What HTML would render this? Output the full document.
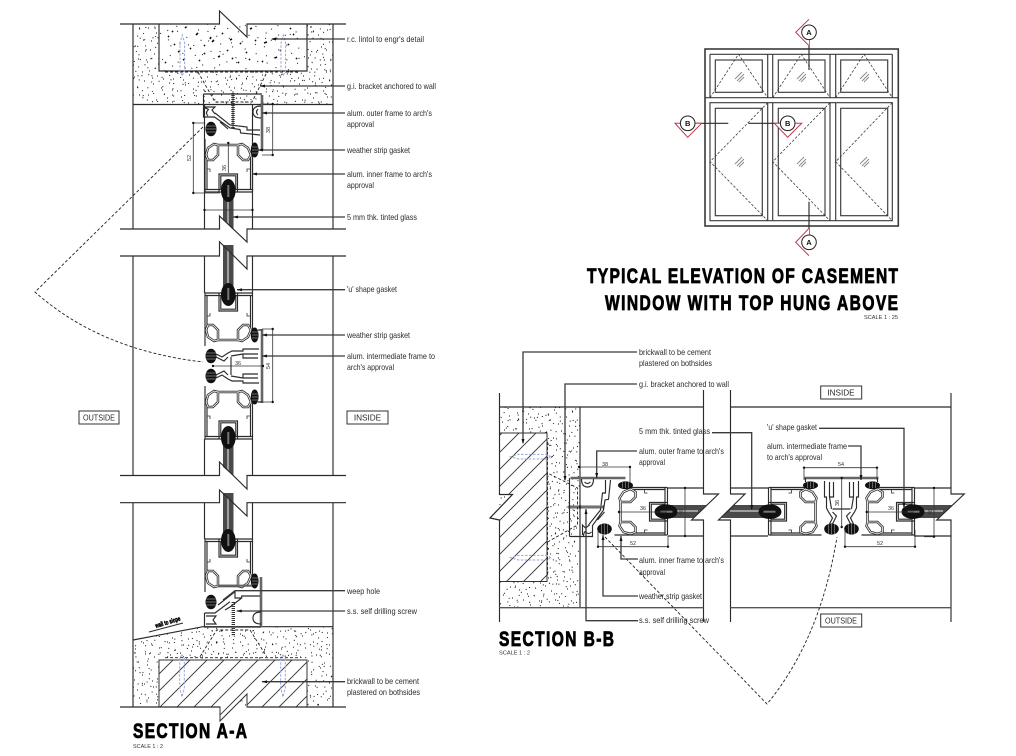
<!DOCTYPE html>
<html><head><meta charset="utf-8"><style>
html,body{margin:0;padding:0;background:#fff;width:1016px;height:756px;overflow:hidden}
svg{display:block}
.t{font:8.2px "Liberation Sans",sans-serif;fill:#2a2a2a}
.d{font:5.5px "Liberation Sans",sans-serif;fill:#333}
.h{font:bold 21px "Liberation Sans",sans-serif;fill:#000;stroke:#000;stroke-width:.85}
.s{font:5.6px "Liberation Sans",sans-serif;fill:#333}
.l{fill:none;stroke:#2b2b2b;stroke-width:1.15}
.ld{fill:none;stroke:#3a3a3a;stroke-width:1.3}
.dm{fill:none;stroke:#333;stroke-width:.8}
.th{fill:none;stroke:#666;stroke-width:2.6}
.da{fill:none;stroke:#222;stroke-width:.9;stroke-dasharray:3 2}
.bl{fill:none;stroke:#9aa6dc;stroke-width:1;stroke-dasharray:2.5 1.5}
.k{fill:#111;stroke:#111}
.win{fill:none;stroke:#3a3a3a;stroke-width:1.15}
.wd{fill:none;stroke:#333;stroke-width:.75;stroke-dasharray:2.6 1.7}
.red{fill:#fff;stroke:#c03648;stroke-width:1}
</style></head><body>
<svg width="1016" height="756" viewBox="0 0 1016 756" xmlns="http://www.w3.org/2000/svg">
<defs>
<path id="dots" stroke="#111" stroke-width="1" fill="none" d="M3 4h1M11 9h1M19 2h1M27 12h1M34 5h1M43 8h1M52 3h1M61 10h1M69 5h1M7 17h1M15 21h1M23 16h1M31 24h1M39 18h1M47 22h1M55 15h1M64 20h1M71 14h1M2 28h1M10 33h1M18 27h1M26 35h1M35 30h1M42 36h1M50 29h1M58 34h1M66 28h1M5 41h1M13 45h1M21 39h1M29 47h1M37 42h1M45 48h1M53 41h1M62 46h1M70 40h1M8 54h1M16 58h1M24 52h1M32 60h1M40 55h1M48 61h1M56 53h1M65 59h1M1 62h1M12 64h1M28 65h1M44 64h1M60 65h1M6 11h1M37 13h1M58 24h1M21 31h1M46 44h1M72 51h1M4 50h1M34 50h1M59 50h1M17 12h1"/>
<pattern id="sp" patternUnits="userSpaceOnUse" width="73" height="67"><use href="#dots"/></pattern>
<pattern id="sp2" patternUnits="userSpaceOnUse" width="73" height="67" patternTransform="translate(17,23) rotate(37)"><use href="#dots"/></pattern>
<pattern id="sp3" patternUnits="userSpaceOnUse" width="73" height="67" patternTransform="translate(41,9) rotate(-62)"><use href="#dots"/></pattern>
<pattern id="ha" patternUnits="userSpaceOnUse" width="17" height="17">
<path stroke="#333" stroke-width=".95" fill="none" d="M-2 19L19 -2M-2 2L2 -2M15 19L19 15"/>
</pattern>
<path id="lp" fill="none" d="M206,330L208,325H213L218,330V340H238V330L243,325H248L251,330L248,337L242,341L238,340M206,330L208,337L214,341L218,340"/>

<g id="inner">
<path class="l" d="M205,293H252.5M205,295.5H252.5M205,293V346M207,295V331M252.5,293V331M250.5,295V331"/>
<path class="l" d="M219,293V311H237.5V293M220.8,295V309.2H235.8V295"/>
<use href="#lp" stroke="#333" stroke-width="2.5"/>
<use href="#lp" stroke="#fff" stroke-width=".8"/>
<path class="dm" d="M207,316h3v-3M250,316h-3v-3"/>
<ellipse class="k" cx="228.3" cy="294.5" rx="6.8" ry="11"/>
<path stroke="#777" stroke-width="2" d="M228.3,288V300"/>
<ellipse class="k" cx="254.7" cy="335" rx="3.4" ry="7"/>
<ellipse class="k" cx="211" cy="356" rx="5" ry="6.8"/>
<path stroke="#888" stroke-width=".7" d="M206,353h10M206,356h10M206,359h10M252,332h6M252,335h6M252,338h6"/>
</g>

<g id="mid">
<use href="#inner"/>
<use href="#inner" transform="matrix(1 0 0 -1 0 732)"/>
<path class="th" d="M262,329V403"/>
<path class="l" d="M258,330H262M258,402H262"/>
<path class="l" d="M216,354L222,357L228,353L232,351H243V349H259M216,378L222,375L228,379L232,381H243V383H259M231,357V375M216,357L224,361L228,357M216,375L224,371L228,375M231,356L243,354H258M231,376L243,378H258M243,354V358H258M243,378V374H258"/>
</g>

<g id="top">
<path class="th" d="M262,95V150"/>
<path class="l" d="M203.5,94H262M203.5,94V117H214.5L230,128L240,129.5L240.7,133L260,135M215,113L230,125L247,127V130H260M220,122L228,129"/>
<path class="l" d="M205,107H215L212,110L215,114M208,110q-3,3 0,6M204,108q3,0 5,2"/>
<path class="l" d="M261,106q-8,0-8,6q0,6 8,6M258,109q-3,3 0,6"/>
<path fill="none" stroke="#333" stroke-width="3.4" stroke-dasharray="1 1" d="M233,93V128"/>
<path class="dm" d="M233,91V128"/>
<path class="da" d="M165,72H300M198,72L215,102H252L267,72"/>
<path class="bl" d="M182.3,75L180,72V43L182.3,35L184.6,43V72ZM283.3,75L281,72V43L283.3,35L285.6,43V72Z"/>
<use href="#inner" transform="matrix(1 0 0 -1 0 485)"/>
</g>
</defs>

<rect width="1016" height="756" fill="#fff"/>

<!-- SECTION A-A : fills -->
<rect x="133" y="24" width="200" height="80.5" fill="url(#sp)"/>
<rect x="133" y="24" width="200" height="80.5" fill="url(#sp2)"/>
<rect x="133" y="24" width="200" height="80.5" fill="url(#sp3)"/>
<rect x="159" y="24" width="148" height="47" fill="#fff"/>
<rect x="159" y="24" width="148" height="47" fill="url(#sp3)"/>
<path stroke="#111" stroke-width="1.6" fill="none" d="M172,32l1,-1M185,27l1,1M196,35l2,-2M211,37l-1,2M214,28l1,1M230,40l2,-1M227,50l1,1M178,52l2,-1M190,48l1,1M205,53l-1,1M218,57l2,-1M240,43l1,1M255,40l1,1M264,43l3,-1M276,38l1,1M288,44l1,1M293,34l1,1M249,60l1,-1M262,61l1,1M238,62l1,1M199,60l1,1M183,60l2,-1M165,62l1,1M275,58l2,-1M296,58l1,1M250,29l2,-1M174,44l1,1M290,28l1,1M204,45l1,1M212,42l2,-2M222,34l1,-1M246,52l1,1M168,36l1,1M280,50l1,1M232,58l1,1"/>
<path fill="url(#sp)" d="M133,640L203,626.7H333V707H133Z"/>
<path fill="url(#sp2)" d="M133,640L203,626.7H333V707H133Z"/>
<path fill="url(#sp3)" d="M133,640L203,626.7H333V707H133Z"/>
<path d="M159,660H307V707H247V694L220,721V707H159Z" fill="#fff"/>
<path d="M159,660H307V707H247V694L220,721V707H159Z" fill="url(#ha)" stroke="#333" stroke-width="1"/>

<!-- glass A-A -->
<g fill="#4a4a4a">
<path d="M223,192H233.5V230L223,220Z"/>
<path d="M223,245H233.5V295H223Z"/>
<path d="M223,437H233.5V476L223,467Z"/>
<path d="M223,493H233.5V541H223Z"/>
</g>
<path stroke="#aaa" stroke-width="1.8" d="M228,196V224M228,250V285M228,447V471M228,498V530"/>

<!-- A-A walls -->
<g class="l">
<path d="M120,24H219.5V11L247,37V24H346"/>
<path d="M159,24V71H307V24"/>
<path d="M133,24V229M333,24V229M133,104.5H333"/>
<path d="M204.5,104V229M252.5,104V229"/>
<path d="M120,229H219.5V216L247,242V229H346"/>
<path d="M120,256H219.5V241.7L247,269V256H346"/>
<path d="M133,256V475.5M333,256V475.5M204.5,256V293M252.5,256V293M204.5,439V475.5M252.5,439V475.5"/>
<path d="M120,475.5H219.5V462L247,489V475.5H346"/>
<path d="M120,502.7H219.5V490L247,516V502.7H346"/>
<path d="M133,502.7V707M333,502.7V707M204.5,502.7V539M252.5,502.7V539"/>
<path d="M133,640L203,626.7H333"/>
<path d="M120,707H220M247,707H346"/>
</g>

<use href="#top"/>
<use href="#mid"/>
<use href="#inner" transform="translate(0,246)"/>

<!-- A-A bottom outer frame -->
<path class="th" d="M261,577V627"/>
<path fill="none" stroke="#666" stroke-width="2.2" d="M218,585.7H252"/>
<path class="l" d="M204.5,613V627H261M204.5,613H215L230,601.7M218,605L235,591.7V598H241.7V596H260M241.7,598L230,607L225,610"/>
<path class="l" d="M206,616H216L213,620L216,624H206M261,612q-8,0-8,6q0,6 8,6"/>
<path fill="none" stroke="#333" stroke-width="3.4" stroke-dasharray="1 1" d="M233.3,602V635"/>
<path class="da" d="M165,657.7H300M200,656.7L216.7,630H250L266.7,656.7"/>
<path class="bl" d="M182,655L179.7,658V688L182,697L184.3,688V658ZM283,655L280.7,658V688L283,697L285.3,688V658Z"/>
<path class="l" d="M149,632L183,623"/>
<text transform="translate(156,628) rotate(-17)" font-family="Liberation Sans,sans-serif" font-weight="bold" font-size="6.5" fill="#000" stroke="#000" stroke-width=".5" textLength="26" lengthAdjust="spacingAndGlyphs">wall to slope</text>

<!-- door swing A-A -->
<path class="da" d="M203,127L35,292Q100,350 203,362"/>

<!-- A-A dims -->
<g class="dm">
<path d="M262,104H272.7V155H262"/>
<path d="M204,123H193.3V193H220"/>
<path d="M204.5,210H252.5M204.5,192V210M252.5,192V210"/>
<path d="M228.3,143V173"/>
<path d="M213,366H263"/>
<path d="M262,329H272.7V402H262"/>
</g>
<g fill="#111">
<circle cx="272.7" cy="104" r="1.2"/><circle cx="272.7" cy="155" r="1.2"/><circle cx="193.3" cy="123" r="1.2"/><circle cx="193.3" cy="193" r="1.2"/><circle cx="204.5" cy="210" r="1.2"/><circle cx="252.5" cy="210" r="1.2"/><circle cx="228.3" cy="143" r="1.2"/><circle cx="213" cy="366" r="1.2"/><circle cx="263" cy="366" r="1.2"/><circle cx="272.7" cy="329" r="1.2"/><circle cx="272.7" cy="402" r="1.2"/>
</g>
<text class="d" transform="translate(270,130) rotate(-90)" text-anchor="middle">38</text>
<text class="d" transform="translate(191,158) rotate(-90)" text-anchor="middle">52</text>
<text class="d" transform="translate(226,168) rotate(-90)" text-anchor="middle">36</text>
<text class="d" x="238" y="365" text-anchor="middle">36</text>
<text class="d" transform="translate(270,366) rotate(-90)" text-anchor="middle">54</text>

<!-- A-A leaders -->
<path class="ld" d="M345,39H272M345,86H260M345,113H262M345,150H258M345,174H252M345,217H233M345,289.7H237M345,335H262M345,356H262M345,590.7H235L223,600M345,611H236.7M345,681.7H262"/>
<g fill="#111"><path d="M271,39l5,-1.5v3zM260,86l5,-1.5v3zM262,113l5,-1.5v3zM258,150l5,-1.5v3zM252,174l5,-1.5v3zM233,217l5,-1.5v3zM237,289.7l5,-1.5v3zM262,335l5,-1.5v3zM262,356l5,-1.5v3zM236.7,611l5,-1.5v3zM262,681.7l5,-1.5v3z"/></g>

<!-- A-A labels -->
<text class="t" x="347" y="42" textLength="77" lengthAdjust="spacingAndGlyphs">r.c. lintol to engr's detail</text>
<text class="t" x="347" y="89" textLength="89" lengthAdjust="spacingAndGlyphs">g.i. bracket anchored to wall</text>
<text class="t" x="347" y="116" textLength="85" lengthAdjust="spacingAndGlyphs">alum. outer frame to arch's</text>
<text class="t" x="347" y="127" textLength="27" lengthAdjust="spacingAndGlyphs">approval</text>
<text class="t" x="347" y="153" textLength="63" lengthAdjust="spacingAndGlyphs">weather strip gasket</text>
<text class="t" x="347" y="177" textLength="85" lengthAdjust="spacingAndGlyphs">alum. inner frame to arch's</text>
<text class="t" x="347" y="188" textLength="27" lengthAdjust="spacingAndGlyphs">approval</text>
<text class="t" x="347" y="220" textLength="70" lengthAdjust="spacingAndGlyphs">5 mm thk. tinted glass</text>
<text class="t" x="347" y="292" textLength="50" lengthAdjust="spacingAndGlyphs">'u' shape gasket</text>
<text class="t" x="347" y="338" textLength="63" lengthAdjust="spacingAndGlyphs">weather strip gasket</text>
<text class="t" x="347" y="359" textLength="88" lengthAdjust="spacingAndGlyphs">alum. intermediate frame to</text>
<text class="t" x="347" y="370" textLength="47" lengthAdjust="spacingAndGlyphs">arch's approval</text>
<text class="t" x="347" y="594" textLength="33" lengthAdjust="spacingAndGlyphs">weep hole</text>
<text class="t" x="347" y="614" textLength="70" lengthAdjust="spacingAndGlyphs">s.s. self drilling screw</text>
<text class="t" x="347" y="684" textLength="72" lengthAdjust="spacingAndGlyphs">brickwall to be cement</text>
<text class="t" x="347" y="695" textLength="73" lengthAdjust="spacingAndGlyphs">plastered on bothsides</text>
<rect x="347" y="411" width="41" height="13" fill="#fff" stroke="#333"/>
<text class="t" x="367.5" y="420.5" text-anchor="middle">INSIDE</text>
<rect x="79" y="411" width="40" height="13" fill="#fff" stroke="#333"/>
<text class="t" x="99" y="420.5" text-anchor="middle" textLength="32" lengthAdjust="spacingAndGlyphs">OUTSIDE</text>
<text class="h" transform="translate(133,738) scale(.74,1)" textLength="154" lengthAdjust="spacing">SECTION A-A</text>
<text class="s" x="133" y="748" textLength="30" lengthAdjust="spacingAndGlyphs">SCALE 1 : 2</text>

<!-- ELEVATION -->
<g class="win">
<rect x="705" y="49" width="193.3" height="177" style="stroke-width:1.6"/>
<path d="M705,97.7H898.3"/>
<path d="M710,54.3H892.3M710,97.7V54.3M892.3,54.3V97.7M767.7,54.3V97.7M772.7,54.3V97.7M830,54.3V97.7M835.7,54.3V97.7"/>
<path d="M710,102.7H892.3V220.7H710ZM767.7,102.7V220.7M772.7,102.7V220.7M830,102.7V220.7M835.7,102.7V220.7"/>
<rect x="715.3" y="60" width="47" height="32.3"/><rect x="778.3" y="60" width="46.7" height="32.3"/><rect x="840.7" y="60" width="47" height="32.3"/>
<rect x="715.3" y="108.3" width="47" height="107.4"/><rect x="778.3" y="108.3" width="46.7" height="107.4"/><rect x="840.7" y="108.3" width="47" height="107.4"/>
</g>
<g class="wd">
<path d="M710,97.7L738.5,54.3L767.7,97.7M772.7,97.7L801.3,54.3L830,97.7M835.7,97.7L864,54.3L892.3,97.7"/>
<path d="M767.7,102.7L710,161.7L767.7,220.7M830,102.7L772.7,161.7L830,220.7M892.3,102.7L835.7,161.7L892.3,220.7"/>
</g>
<g stroke="#888" stroke-width=".9" fill="none">
<path d="M735,79l7,-7M737,81l7,-7M739,82l5,-5M797,79l7,-7M799,81l7,-7M801,82l5,-5M860,79l7,-7M862,81l7,-7M864,82l5,-5"/>
<path d="M735,164l7,-7M737,166l7,-7M739,167l5,-5M797,164l7,-7M799,166l7,-7M801,167l5,-5M860,164l7,-7M862,166l7,-7M864,167l5,-5"/>
</g>
<path class="l" d="M809,40V70M809,201.7V235M695,123.3H728.3M748.3,123.3H781.7"/>
<path class="red" d="M809,19.3L795.7,32.3L809,45.7"/>
<path class="red" d="M809,228.3L795.7,242.3L809,255.7"/>
<path class="red" d="M675,123.3L687.7,137.3L701.7,123.3Z"/>
<path class="red" d="M774.3,123.3L787.7,137.3L801.7,123.3Z"/>
<g fill="#fff" stroke="#222" stroke-width="1">
<circle cx="809" cy="32.3" r="7.3"/><circle cx="809" cy="242.3" r="7.3"/><circle cx="687.7" cy="123.3" r="7.3"/><circle cx="787.7" cy="123.3" r="7.3"/>
</g>
<g font-family="Liberation Sans,sans-serif" font-size="7.5" font-weight="bold" text-anchor="middle" fill="#111">
<text x="809" y="35">A</text><text x="809" y="245">A</text><text x="687.7" y="126">B</text><text x="787.7" y="126">B</text>
</g>
<text class="h" transform="translate(587,283) scale(.74,1)" textLength="420.3" lengthAdjust="spacing">TYPICAL ELEVATION OF CASEMENT</text>
<text class="h" transform="translate(605,310) scale(.74,1)" textLength="396" lengthAdjust="spacing">WINDOW WITH TOP HUNG ABOVE</text>
<text class="s" x="864" y="319" textLength="34" lengthAdjust="spacingAndGlyphs">SCALE 1 : 25</text>

<!-- SECTION B-B fills -->
<rect x="499.5" y="407" width="80.5" height="200.7" fill="url(#sp)"/>
<rect x="499.5" y="407" width="80.5" height="200.7" fill="url(#sp2)"/>
<rect x="499.5" y="407" width="80.5" height="200.7" fill="url(#sp3)"/>
<path d="M499.5,433H547V581.5H499.5V520L490,518L512.5,494.5H499.5Z" fill="#fff"/>
<path d="M499.5,433H547V581.5H499.5V520L490,518L512.5,494.5H499.5Z" fill="url(#ha)" stroke="#333" stroke-width="1"/>

<!-- glass B-B -->
<g fill="#4a4a4a">
<path d="M668,505H707L693.6,518H668Z"/>
<path d="M734,505H768V518H720.6Z"/>
<path d="M914,505H952.6L939,518H914Z"/>
</g>
<path stroke="#aaa" stroke-width="1.8" d="M675,511H698M730,511H760M920,511H943"/>

<!-- B-B walls -->
<g class="l">
<path d="M499.5,393V494.5H512.5L490,518L499.5,520V622"/>
<path d="M703.5,390V494H718.5L691.5,520H703.5V622"/>
<path d="M730.5,390V494H745L718.5,520H730.5V622"/>
<path d="M951,393V494H964.3L936.7,520H951V622"/>
<path d="M499.5,407H703.5M730.5,407H951"/>
<path d="M580,407V607.7"/>
<path d="M668,488H703.5M668,536H703.5M730.5,488H768M730.5,536H768M914,488H951M914,536H951"/>
</g>
<path fill="none" stroke="#555" stroke-width="1.4" d="M499.5,607.7H703.5M730.5,607.7H951"/>

<g transform="translate(841.5,511.5) rotate(-90) translate(-228.5,-366)">
<use href="#top"/>
<use href="#mid"/>
</g>

<!-- door swing B-B -->
<path class="da" d="M605,537L767,704Q820,640 837,537"/>

<!-- B-B dims -->
<g class="dm">
<path d="M579,467H630V483M630,467V470"/>
<path d="M598,546.7H668V536M598,546.7V530"/>
<path d="M685,488V536M668,488H685M668,536H685"/>
<path d="M619,512H667"/>
<path d="M804,480V467.7H877V480"/>
<path d="M841.7,478V527"/>
<path d="M845,530V546.7H915V530"/>
<path d="M866.7,512H914"/>
<path d="M934,488V536.7M924,488H934M924,536.7H934"/>
</g>
<g fill="#111">
<circle cx="579" cy="467" r="1.2"/><circle cx="630" cy="467" r="1.2"/><circle cx="598" cy="546.7" r="1.2"/><circle cx="668" cy="546.7" r="1.2"/><circle cx="685" cy="488" r="1.2"/><circle cx="685" cy="536" r="1.2"/><circle cx="619" cy="512" r="1.2"/><circle cx="804" cy="467.7" r="1.2"/><circle cx="877" cy="467.7" r="1.2"/><circle cx="841.7" cy="478" r="1.2"/><circle cx="841.7" cy="527" r="1.2"/><circle cx="845" cy="546.7" r="1.2"/><circle cx="915" cy="546.7" r="1.2"/><circle cx="866.7" cy="512" r="1.2"/><circle cx="934" cy="488" r="1.2"/><circle cx="934" cy="536.7" r="1.2"/>
</g>
<g class="d">
<text x="605" y="466" text-anchor="middle">38</text>
<text x="633" y="545" text-anchor="middle">52</text>
<text x="643" y="510" text-anchor="middle">36</text>
<text x="841" y="466" text-anchor="middle">54</text>
<text x="880" y="545" text-anchor="middle">52</text>
<text x="891" y="510" text-anchor="middle">36</text>
<text transform="translate(839,503) rotate(-90)" text-anchor="middle">36</text>
<text transform="translate(683,512) rotate(-90)" text-anchor="middle">48</text>
<text transform="translate(932,512) rotate(-90)" text-anchor="middle">48</text>
</g>

<!-- B-B leaders -->
<path class="ld" d="M637,352H523V443M637,384H565V480M637,451H596.7V478M638,559H621V536M638,596H603V535M638,620.7H586V509M712,432.7H751.7V510M819,428.3H904V508M848,446H861V480"/>
<g fill="#111"><path d="M523,444l-1.5,-5h3zM565,481l-1.5,-5h3zM596.7,478l-1.5,-5h3zM621,536l-1.5,5h3zM603,535l-1.5,5h3zM586,509l-1.5,5h3zM751.7,510l-1.5,-5h3zM904,508l-1.5,-5h3zM861,480l-1.5,-5h3z"/></g>

<!-- B-B labels -->
<text class="t" x="639" y="355" textLength="72" lengthAdjust="spacingAndGlyphs">brickwall to be cement</text>
<text class="t" x="639" y="366" textLength="73" lengthAdjust="spacingAndGlyphs">plastered on bothsides</text>
<text class="t" x="639" y="387" textLength="90" lengthAdjust="spacingAndGlyphs">g.i. bracket anchored to wall</text>
<text class="t" x="639" y="434" textLength="71" lengthAdjust="spacingAndGlyphs">5 mm thk. tinted glass</text>
<text class="t" x="639" y="454" textLength="85" lengthAdjust="spacingAndGlyphs">alum. outer frame to arch's</text>
<text class="t" x="639" y="465" textLength="26" lengthAdjust="spacingAndGlyphs">approval</text>
<text class="t" x="639" y="563" textLength="85" lengthAdjust="spacingAndGlyphs">alum. inner frame to arch's</text>
<text class="t" x="639" y="575" textLength="26" lengthAdjust="spacingAndGlyphs">approval</text>
<text class="t" x="639" y="599" textLength="63" lengthAdjust="spacingAndGlyphs">weather strip gasket</text>
<text class="t" x="639" y="623" textLength="70" lengthAdjust="spacingAndGlyphs">s.s. self drilling screw</text>
<text class="t" x="767" y="430" textLength="50" lengthAdjust="spacingAndGlyphs">'u' shape gasket</text>
<text class="t" x="767" y="449" textLength="80" lengthAdjust="spacingAndGlyphs">alum. intermediate frame</text>
<text class="t" x="767" y="460" textLength="55" lengthAdjust="spacingAndGlyphs">to arch's approval</text>
<rect x="820.7" y="386" width="41" height="13" fill="#fff" stroke="#333"/>
<text class="t" x="841" y="395.5" text-anchor="middle">INSIDE</text>
<rect x="820.7" y="614" width="41" height="13" fill="#fff" stroke="#333"/>
<text class="t" x="841" y="623.5" text-anchor="middle" textLength="32" lengthAdjust="spacingAndGlyphs">OUTSIDE</text>
<text class="h" transform="translate(499,646) scale(.74,1)" textLength="155.4" lengthAdjust="spacing">SECTION B-B</text>
<text class="s" x="499" y="654.5" textLength="31" lengthAdjust="spacingAndGlyphs">SCALE 1 : 2</text>
</svg>
</body></html>
